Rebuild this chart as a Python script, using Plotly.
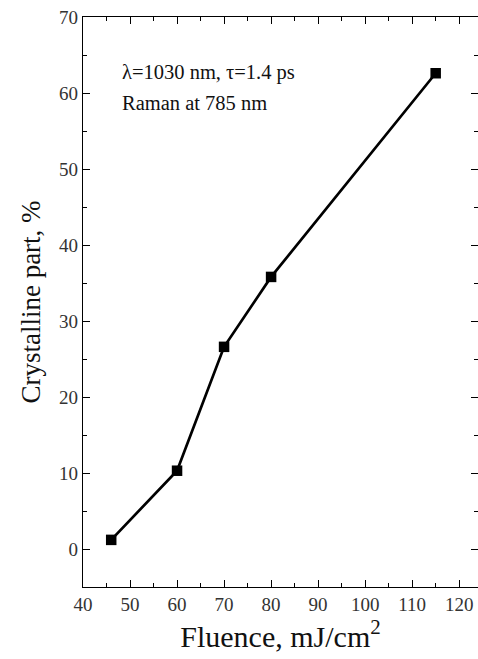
import plotly.graph_objects as go

fluence = [46, 60, 70, 80, 115]
crystalline = [1.2, 10.3, 26.6, 35.8, 62.6]
x_ticks = [40, 50, 60, 70, 80, 90, 100, 110, 120]
y_ticks = [0, 10, 20, 30, 40, 50, 60, 70]

FONT = "Liberation Serif, Times New Roman, serif"

fig = go.Figure()
fig.add_trace(go.Scatter(
    x=fluence, y=crystalline, mode="lines+markers",
    line=dict(color="black", width=2.7),
    marker=dict(symbol="square", size=10.5, color="black"),
    showlegend=False,
))

axis_common = dict(
    showline=True, linecolor="black", linewidth=1.3, mirror="ticks",
    ticks="inside", ticklen=7, tickwidth=1.2, tickcolor="black",
    showgrid=False, zeroline=False,
    tickfont=dict(family=FONT, size=19, color="#333"),
)

fig.update_xaxes(
    range=[40, 124], tickvals=x_ticks,
    minor=dict(ticks="inside", ticklen=4, tickwidth=1.2, tickcolor="black", dtick=5, tick0=40),
    title=dict(text="Fluence, mJ/cm<sup>2</sup>", font=dict(family=FONT, size=30, color="#111"), standoff=10),
    **axis_common,
)
fig.update_yaxes(
    range=[-5, 70], tickvals=y_ticks,
    minor=dict(ticks="inside", ticklen=4, tickwidth=1.2, tickcolor="black", dtick=5, tick0=0),
    title=dict(text="Crystalline part, %", font=dict(family=FONT, size=27, color="#111"), standoff=10),
    **axis_common,
)

fig.add_annotation(
    xref="paper", yref="paper", x=0.094, y=0.902, xanchor="left", yanchor="middle",
    text="λ=1030 nm, τ=1.4 ps", showarrow=False,
    font=dict(family=FONT, size=20.5, color="#111"),
)
fig.add_annotation(
    xref="paper", yref="paper", x=0.094, y=0.849, xanchor="left", yanchor="middle",
    text="Raman at 785 nm", showarrow=False,
    font=dict(family=FONT, size=20.5, color="#111"),
)

fig.update_layout(
    width=478, height=659,
    margin=dict(l=83, r=0, t=17, b=72),
    paper_bgcolor="white", plot_bgcolor="white",
)

fig.write_html("out.html")
